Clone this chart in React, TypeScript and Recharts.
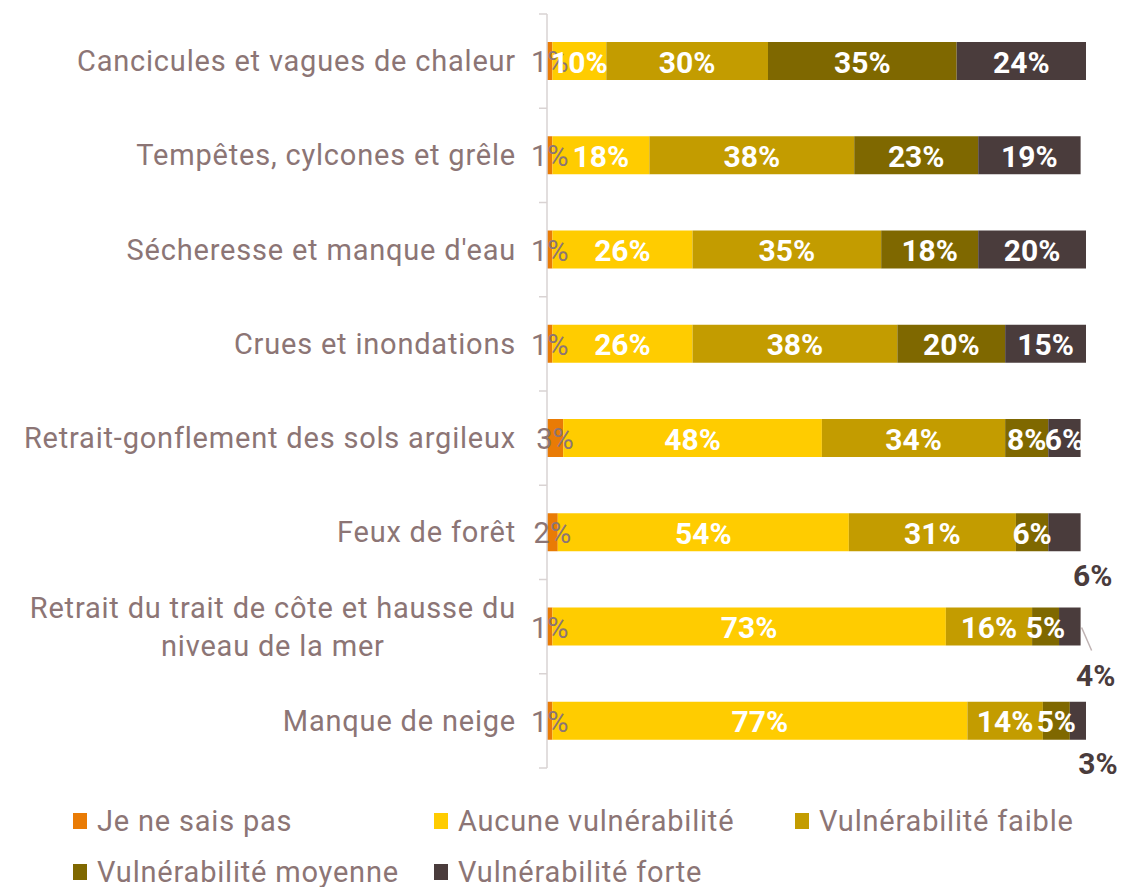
import React from 'react';
import { BarChart, Bar, XAxis, YAxis, LabelList } from 'recharts';

const CATEGORIES = [
  'Cancicules et vagues de chaleur',
  'Tempêtes, cylcones et grêle',
  "Sécheresse et manque d'eau",
  'Crues et inondations',
  'Retrait-gonflement des sols argileux',
  'Feux de forêt',
  'Retrait du trait de côte et hausse du\nniveau de la mer',
  'Manque de neige',
];

const JE_NE_SAIS_PAS = [1, 1, 1, 1, 3, 2, 1, 1];
const AUCUNE = [10, 18, 26, 26, 48, 54, 73, 77];
const FAIBLE = [30, 38, 35, 38, 34, 31, 16, 14];
const MOYENNE = [35, 23, 18, 20, 8, 6, 5, 5];
const FORTE = [24, 19, 20, 15, 6, 6, 4, 3];

const SERIES = [
  { key: 'nsp', name: 'Je ne sais pas', values: JE_NE_SAIS_PAS, color: '#E97B05' },
  { key: 'aucune', name: 'Aucune vulnérabilité', values: AUCUNE, color: '#FFCC00' },
  { key: 'faible', name: 'Vulnérabilité faible', values: FAIBLE, color: '#C39C00' },
  { key: 'moyenne', name: 'Vulnérabilité moyenne', values: MOYENNE, color: '#7F6800' },
  { key: 'forte', name: 'Vulnérabilité forte', values: FORTE, color: '#4A3C3C' },
];

// brown labels Excel pushed outside the bar
const OUTSIDE_LABELS = ['Feux de forêt', 'Retrait du trait de côte et hausse du\nniveau de la mer', 'Manque de neige'];
const LEADER_LABELS = ['Retrait du trait de côte et hausse du\nniveau de la mer'];

const data = CATEGORIES.map((name, i) => {
  const row: any = { name };
  SERIES.forEach(s => { row[s.key] = s.values[i]; });
  return row;
});

const W = 1122;
const H = 887;
const TOP = 14;
const BOTTOM = 119;
const AXIS_W = 547;
const BAND = (H - TOP - BOTTOM) / CATEGORIES.length;
const TEXT_GREY = '#8C7575';
const AXIS_GREY = '#D9D3D3';
const FONT = 'Roboto, "Noto Sans", sans-serif';
const FONT_SIZE = 29;
const SPACING = 0.8;

const measure = (t: string) => {
  const ctx = document.createElement('canvas').getContext('2d');
  if (!ctx) return t.length * 14;
  ctx.font = `${FONT_SIZE}px ${FONT}`;
  return ctx.measureText(t).width + t.length * SPACING;
};

const CategoryTick = (props: any) => {
  const { x, y, payload, index } = props;
  const lines = String(payload.value).split('\n');
  const lineH = 38;
  const y0 = y - ((lines.length - 1) * lineH) / 2;
  const axisX = x + 31;
  const maxW = Math.max(...lines.map(measure));
  const multi = lines.length > 1;
  return (
    <g>
      <line x1={axisX - 8} x2={axisX} y1={y - BAND / 2} y2={y - BAND / 2} stroke={AXIS_GREY} strokeWidth={1.5} />
      {index === CATEGORIES.length - 1 && (
        <line x1={axisX - 8} x2={axisX} y1={y + BAND / 2} y2={y + BAND / 2} stroke={AXIS_GREY} strokeWidth={1.5} />
      )}
      {lines.map((l, i) => (
        <text
          key={i}
          x={multi ? x - maxW / 2 : x}
          y={y0 + i * lineH}
          textAnchor={multi ? 'middle' : 'end'}
          dominantBaseline="central"
          fill={TEXT_GREY}
          fontSize={FONT_SIZE}
          letterSpacing={SPACING}
          fontFamily={FONT}
        >
          {l}
        </text>
      ))}
    </g>
  );
};

const makeLabel = (color: string, weight: number) => (props: any) => {
  const { x, y, width, height, value } = props;
  return (
    <text
      x={x + width / 2}
      y={y + height / 2 + 1}
      textAnchor="middle"
      dominantBaseline="central"
      fill={color}
      fontWeight={weight}
      fontSize={weight > 500 ? 30 : 29}
      fontFamily={FONT}
    >
      {value}%
    </text>
  );
};

const ForteLabel = (props: any) => {
  const { x, y, width, height, value, index } = props;
  const cat = CATEGORIES[index];
  if (!OUTSIDE_LABELS.includes(cat)) return makeLabel('#FFFFFF', 700)(props);
  const leader = LEADER_LABELS.includes(cat);
  const ex = x + width;
  const cy = y + height / 2;
  return (
    <g>
      {leader && <line x1={ex + 1} y1={cy + 1} x2={ex + 11} y2={cy + 24} stroke="#BFB3B3" strokeWidth={1.5} />}
      <text
        x={ex + (leader ? 15 : 12)}
        y={cy + (leader ? 49 : 43)}
        textAnchor="middle"
        dominantBaseline="central"
        fill="#4A3C3C"
        fontWeight={700}
        fontSize={30}
        fontFamily={FONT}
      >
        {value}%
      </text>
    </g>
  );
};

const LegendBox = () => (
  <div style={{ position: 'absolute', left: 73, top: 795, width: 1090, display: 'flex', flexWrap: 'wrap', fontFamily: FONT, fontSize: FONT_SIZE, letterSpacing: SPACING, color: TEXT_GREY }}>
    {SERIES.map(s => (
      <div key={s.key} style={{ width: 361, height: 51, display: 'flex', alignItems: 'center', whiteSpace: 'nowrap' }}>
        <span style={{ display: 'inline-block', width: 14, height: 16, background: s.color, marginRight: 10 }} />
        <span>{s.name}</span>
      </div>
    ))}
  </div>
);

export default function App() {
  return (
    <div style={{ position: 'absolute', left: 0, top: 0, width: W, height: H, background: '#fff', overflow: 'hidden' }}>
      <BarChart
        width={W}
        height={H}
        data={data}
        layout="vertical"
        margin={{ top: TOP, right: 36, bottom: BOTTOM, left: 0 }}
      >
        <XAxis type="number" domain={[0, 100]} hide />
        <YAxis
          type="category"
          dataKey="name"
          width={AXIS_W}
          tick={<CategoryTick />}
          tickLine={false}
          tickSize={0}
          tickMargin={31}
          axisLine={{ stroke: AXIS_GREY, strokeWidth: 1.5 }}
          interval={0}
        />
        {SERIES.map((s, si) => (
          <Bar key={s.key} dataKey={s.key} name={s.name} stackId="a" fill={s.color} barSize={38} isAnimationActive={false}>
            <LabelList
              dataKey={s.key}
              content={si === 0 ? makeLabel(TEXT_GREY, 400) : si === 4 ? ForteLabel : makeLabel('#FFFFFF', 700)}
            />
          </Bar>
        ))}
      </BarChart>
      <LegendBox />
    </div>
  );
}
